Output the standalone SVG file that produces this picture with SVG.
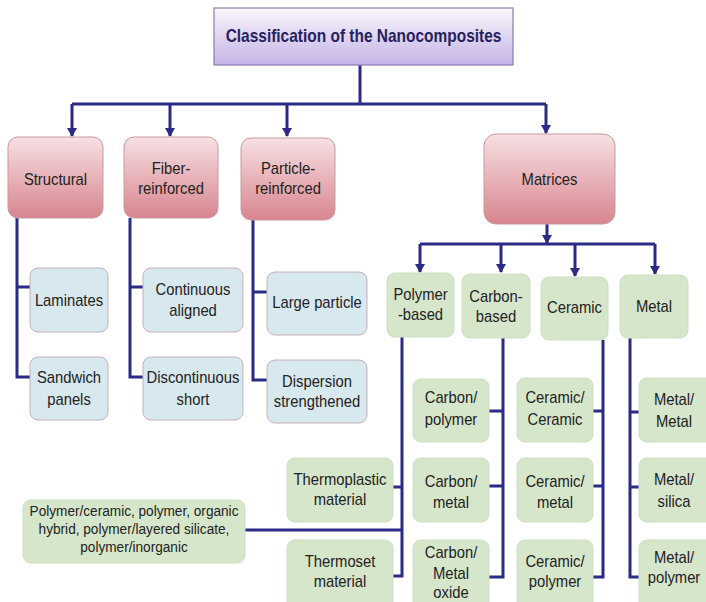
<svg xmlns="http://www.w3.org/2000/svg" width="706" height="602" viewBox="0 0 706 602">
<defs>
<linearGradient id="gPink" x1="0" y1="0" x2="0" y2="1"><stop offset="0" stop-color="#f7e0e3"/><stop offset="1" stop-color="#d7858e"/></linearGradient>
<linearGradient id="gTitle" x1="0" y1="0" x2="0" y2="1"><stop offset="0" stop-color="#faf7fd"/><stop offset="1" stop-color="#c4b3e6"/></linearGradient>
<marker id="ad" markerUnits="userSpaceOnUse" markerWidth="10" markerHeight="10" viewBox="0 0 10 10" refX="5" refY="9">
<path d="M0 1 L10 1 L5 10 Z" fill="#2b2a86"/>
</marker>
</defs>
<style>
text{font-family:"Liberation Sans",Arial,sans-serif;fill:#222;text-anchor:middle;font-size:17px}
.t{font-weight:bold;fill:#27225e;font-size:18px}
.s{font-size:15.5px}
.pink{fill:url(#gPink);stroke:#c89aa0;stroke-width:1}
.blue{fill:#d8e8ef;stroke:#c4b2ba;stroke-width:1}
.green{fill:#d6e6cb;stroke:#cddfc2;stroke-width:1}
.title{fill:url(#gTitle);stroke:#8c7cae;stroke-width:1.2}
.c path{fill:none;stroke:#2b2a86;stroke-width:3}
.c .a{marker-end:url(#ad)}
</style>

<g class="c" id="connectors">
<path d="M360 65 V104"/>
<path d="M72 104 H546"/>
<path class="a" d="M72 104 V136"/>
<path class="a" d="M170 104 V136"/>
<path class="a" d="M287 104 V136"/>
<path class="a" d="M546 104 V133"/>
<path class="a" d="M547 224 V243"/>
<path d="M420 244 H655"/>
<path class="a" d="M420 244 V272"/>
<path class="a" d="M501 244 V272"/>
<path class="a" d="M575 244 V276"/>
<path class="a" d="M655 244 V274"/>
<path d="M17 218 V377 H30 M17 287 H30"/>
<path d="M130 218 V377 H143 M130 287 H143"/>
<path d="M253 220 V380 H267 M253 292 H267"/>
<path d="M402 337 V576 H388 M386 487 H402 M245 530 H402"/>
<path d="M503 338 V577 H489 M489 411 H503 M489 486 H503"/>
<path d="M603 340 V577 H593 M593 411 H603 M593 486 H603"/>
<path d="M630 338 V577 H645 M630 412 H645 M630 487 H645"/>
</g>

<g id="title"><rect class="title" x="214" y="8" width="299" height="57"/><text class="t" transform="translate(363.5 42) scale(.86 1)">Classification of the Nanocomposites</text></g>

<g id="structural"><rect class="pink" x="8" y="137" width="95" height="81" rx="10"/><text transform="translate(55.5 185) scale(.87 1)">Structural</text></g>
<g id="fiber"><rect class="pink" x="124" y="137" width="94" height="81" rx="10"/><text transform="translate(171 174) scale(.87 1)"><tspan x="0" y="0">Fiber-</tspan><tspan x="0" y="20">reinforced</tspan></text></g>
<g id="particle"><rect class="pink" x="241" y="138" width="94" height="82" rx="10"/><text transform="translate(288 174) scale(.87 1)"><tspan x="0" y="0">Particle-</tspan><tspan x="0" y="20">reinforced</tspan></text></g>
<g id="matrices"><rect class="pink" x="484" y="134" width="131" height="90" rx="12"/><text transform="translate(549.5 185) scale(.87 1)">Matrices</text></g>

<g id="laminates"><rect class="blue" x="30" y="268" width="78" height="64" rx="8"/><text transform="translate(69 306) scale(.87 1)">Laminates</text></g>
<g id="sandwich"><rect class="blue" x="30" y="357" width="78" height="63" rx="8"/><text transform="translate(69 383) scale(.87 1)"><tspan x="0" y="0">Sandwich</tspan><tspan x="0" y="22">panels</tspan></text></g>
<g id="continuous"><rect class="blue" x="143" y="268" width="100" height="64" rx="8"/><text transform="translate(193 295) scale(.87 1)"><tspan x="0" y="0">Continuous</tspan><tspan x="0" y="21">aligned</tspan></text></g>
<g id="discontinuous"><rect class="blue" x="143" y="357" width="100" height="63" rx="8"/><text transform="translate(193 383) scale(.87 1)"><tspan x="0" y="0">Discontinuous</tspan><tspan x="0" y="22">short</tspan></text></g>
<g id="large"><rect class="blue" x="267" y="272" width="100" height="63" rx="8"/><text transform="translate(317 308) scale(.87 1)">Large particle</text></g>
<g id="dispersion"><rect class="blue" x="267" y="360" width="100" height="63" rx="8"/><text transform="translate(317 387) scale(.87 1)"><tspan x="0" y="0">Dispersion</tspan><tspan x="0" y="20">strengthened</tspan></text></g>

<g id="polymer"><rect class="green" x="387" y="273" width="67" height="64" rx="8"/><text transform="translate(420.5 300) scale(.87 1)"><tspan x="0" y="0">Polymer</tspan><tspan x="0" y="20">-based</tspan></text></g>
<g id="carbon"><rect class="green" x="462" y="274" width="68" height="64" rx="8"/><text transform="translate(496 302) scale(.87 1)"><tspan x="0" y="0">Carbon-</tspan><tspan x="0" y="20">based</tspan></text></g>
<g id="ceramic"><rect class="green" x="541" y="277" width="67" height="63" rx="8"/><text transform="translate(574.5 313) scale(.87 1)">Ceramic</text></g>
<g id="metal"><rect class="green" x="620" y="275" width="68" height="63" rx="8"/><text transform="translate(654 312) scale(.87 1)">Metal</text></g>

<g id="thermoplastic"><rect class="green" x="287" y="458" width="106" height="64" rx="8"/><text transform="translate(340 485) scale(.87 1)"><tspan x="0" y="0">Thermoplastic</tspan><tspan x="0" y="20">material</tspan></text></g>
<g id="thermoset"><rect class="green" x="287" y="540" width="106" height="70" rx="8"/><text transform="translate(340 567) scale(.87 1)"><tspan x="0" y="0">Thermoset</tspan><tspan x="0" y="20">material</tspan></text></g>
<g id="polyceramic"><rect class="green" x="23" y="500" width="222" height="63" rx="8"/><text class="s" transform="translate(134 516) scale(.88 1)"><tspan x="0" y="0">Polymer/ceramic, polymer, organic</tspan><tspan x="0" y="18">hybrid, polymer/layered silicate,</tspan><tspan x="0" y="36">polymer/inorganic</tspan></text></g>

<g id="carbon-polymer"><rect class="green" x="413" y="379" width="76" height="63" rx="8"/><text transform="translate(451 403) scale(.87 1)"><tspan x="0" y="0">Carbon/</tspan><tspan x="0" y="22">polymer</tspan></text></g>
<g id="carbon-metal"><rect class="green" x="413" y="458" width="76" height="64" rx="8"/><text transform="translate(451 487) scale(.87 1)"><tspan x="0" y="0">Carbon/</tspan><tspan x="0" y="21">metal</tspan></text></g>
<g id="carbon-oxide"><rect class="green" x="413" y="540" width="76" height="70" rx="8"/><text transform="translate(451 558) scale(.87 1)"><tspan x="0" y="0">Carbon/</tspan><tspan x="0" y="21">Metal</tspan><tspan x="0" y="40">oxide</tspan></text></g>

<g id="ceramic-ceramic"><rect class="green" x="517" y="378" width="76" height="64" rx="8"/><text transform="translate(555 403) scale(.87 1)"><tspan x="0" y="0">Ceramic/</tspan><tspan x="0" y="22">Ceramic</tspan></text></g>
<g id="ceramic-metal"><rect class="green" x="517" y="458" width="76" height="64" rx="8"/><text transform="translate(555 487) scale(.87 1)"><tspan x="0" y="0">Ceramic/</tspan><tspan x="0" y="21">metal</tspan></text></g>
<g id="ceramic-polymer"><rect class="green" x="517" y="540" width="76" height="70" rx="8"/><text transform="translate(555 567) scale(.87 1)"><tspan x="0" y="0">Ceramic/</tspan><tspan x="0" y="20">polymer</tspan></text></g>

<g id="metal-metal"><rect class="green" x="639" y="378" width="76" height="64" rx="8"/><text transform="translate(674 405) scale(.87 1)"><tspan x="0" y="0">Metal/</tspan><tspan x="0" y="22">Metal</tspan></text></g>
<g id="metal-silica"><rect class="green" x="639" y="458" width="76" height="64" rx="8"/><text transform="translate(674 485) scale(.87 1)"><tspan x="0" y="0">Metal/</tspan><tspan x="0" y="22">silica</tspan></text></g>
<g id="metal-polymer"><rect class="green" x="639" y="540" width="76" height="70" rx="8"/><text transform="translate(674 563) scale(.87 1)"><tspan x="0" y="0">Metal/</tspan><tspan x="0" y="20">polymer</tspan></text></g>
</svg>
